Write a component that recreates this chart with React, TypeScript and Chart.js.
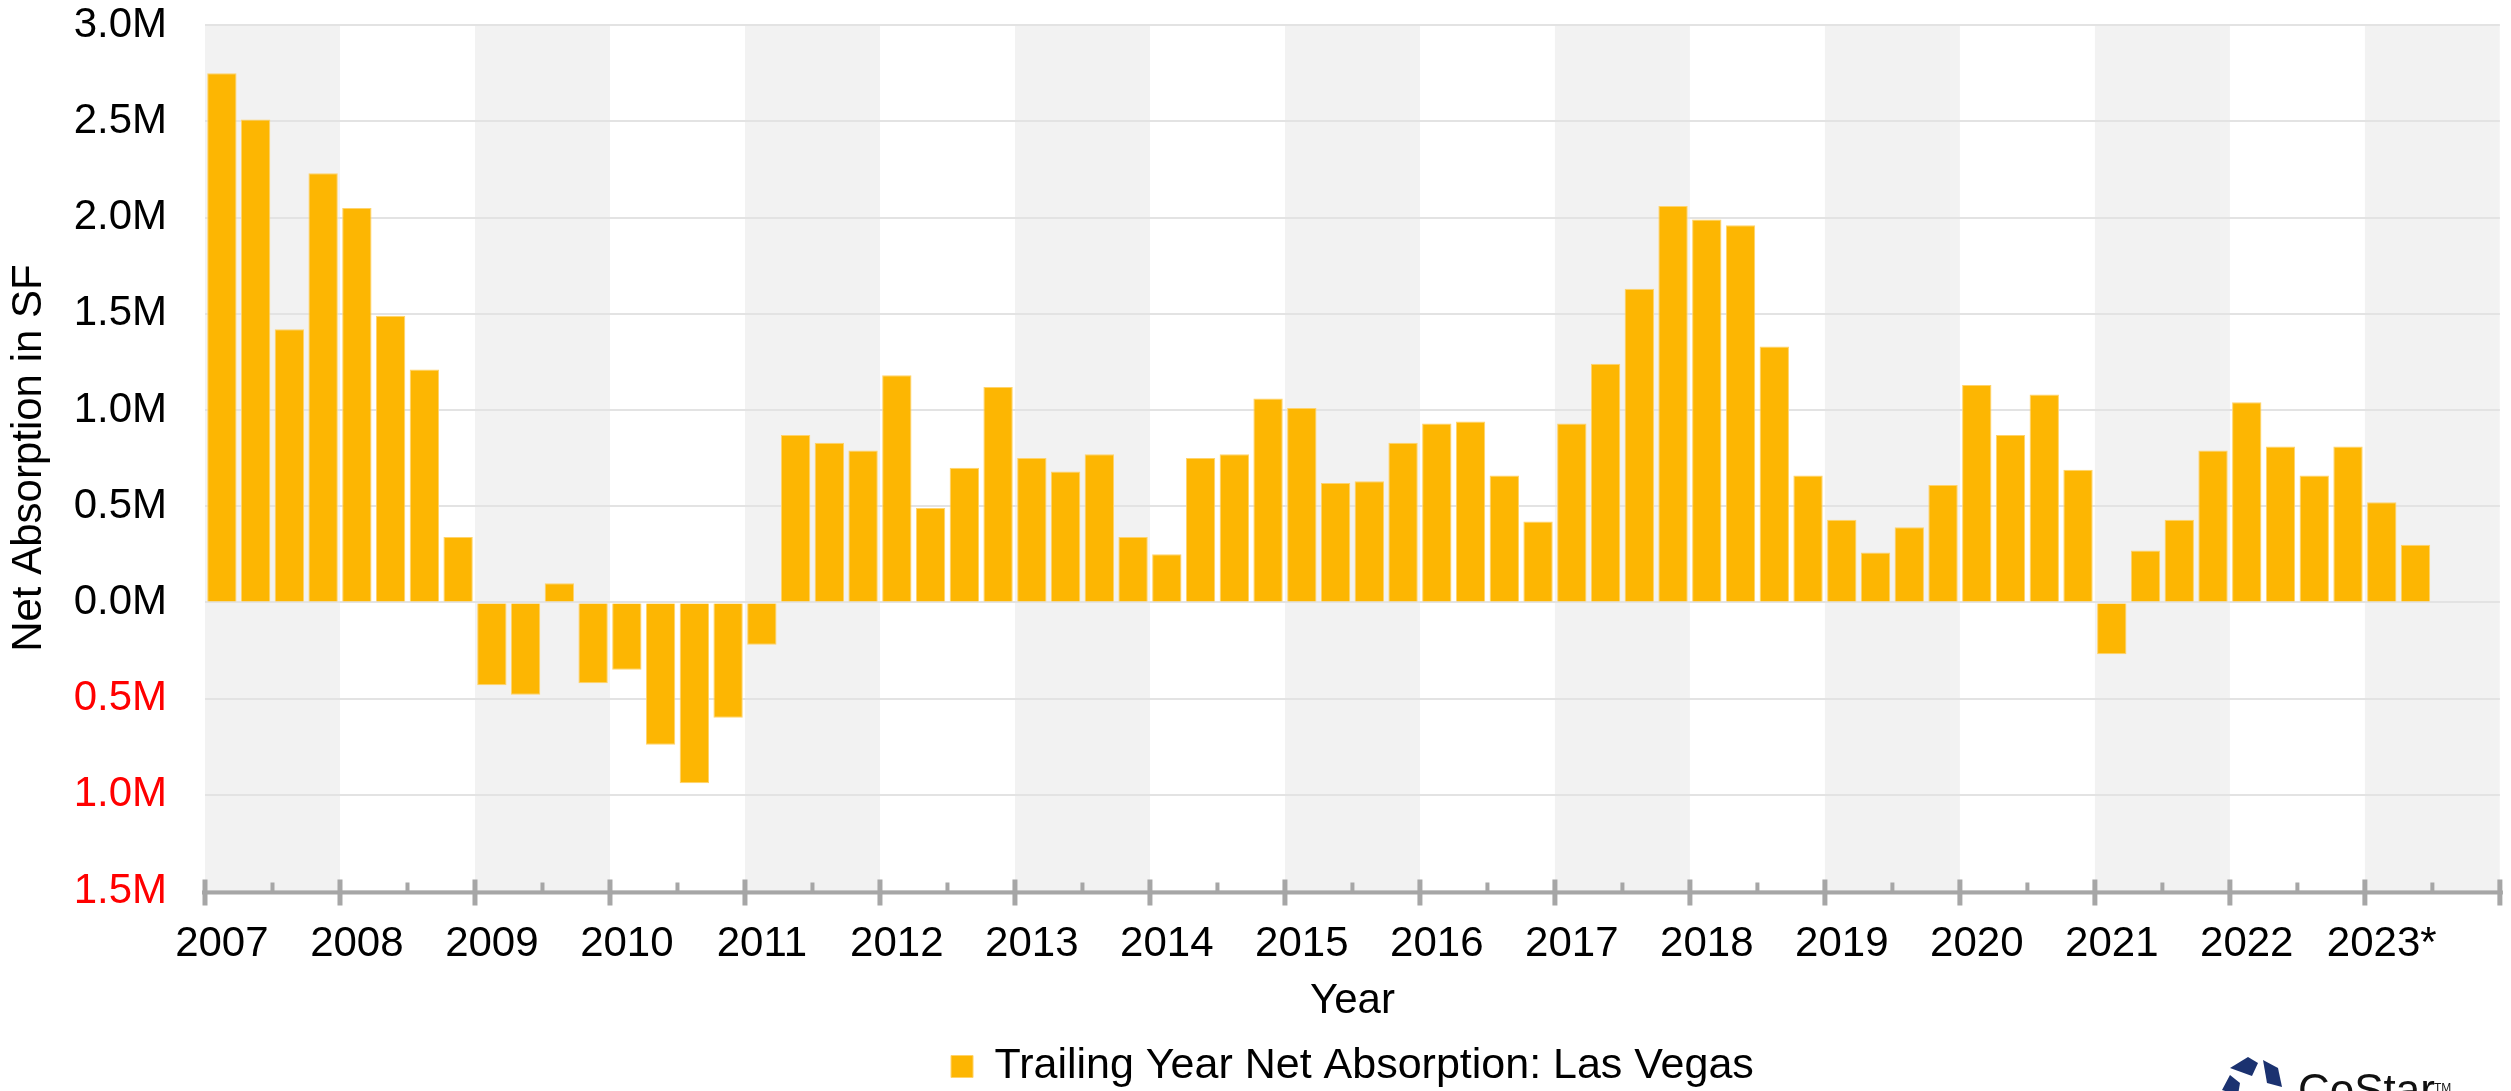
import React, { useEffect, useRef } from 'react';
import { Chart, registerables } from 'chart.js';

Chart.register(...registerables);

// ---------- data ----------
const years = [
  '2007', '2008', '2009', '2010', '2011', '2012', '2013', '2014', '2015',
  '2016', '2017', '2018', '2019', '2020', '2021', '2022', '2023*',
];
const quarters = ['Q1', 'Q2', 'Q3', 'Q4'];
const categories = years.flatMap((y) => quarters.map((q) => `${y} ${q}`));

// Trailing-year net absorption, millions of SF (2023 Q3/Q4 not yet reported)
const netAbsorption: (number | null)[] = [
  2.75, 2.51, 1.42, 2.23, // 2007
  2.05, 1.49, 1.21, 0.34, // 2008
  -0.43, -0.48, 0.10, -0.42, // 2009
  -0.35, -0.74, -0.94, -0.60, // 2010
  -0.22, 0.87, 0.83, 0.79, // 2011
  1.18, 0.49, 0.70, 1.12, // 2012
  0.75, 0.68, 0.77, 0.34, // 2013
  0.25, 0.75, 0.77, 1.06, // 2014
  1.01, 0.62, 0.63, 0.83, // 2015
  0.93, 0.94, 0.66, 0.42, // 2016
  0.93, 1.24, 1.63, 2.06, // 2017
  1.99, 1.96, 1.33, 0.66, // 2018
  0.43, 0.26, 0.39, 0.61, // 2019
  1.13, 0.87, 1.08, 0.69, // 2020
  -0.27, 0.27, 0.43, 0.79, // 2021
  1.04, 0.81, 0.66, 0.81, // 2022
  0.52, 0.30, null, null, // 2023
];

const seriesLabel = 'Trailing Year Net Absorption: Las Vegas';
const yAxisTitle = 'Net Absorption in SF';
const xAxisTitle = 'Year';
const yMin = -1.5;
const yMax = 3.0;
const yStep = 0.5;

// ---------- styles ----------
const FONT = "'Liberation Sans', Arial, Helvetica, sans-serif";
const FS = 42;
const BAR = '#FDB602';
const BAR_EDGE = '#FFD36B';
const BAND = '#F2F2F2';
const GRID = '#E3E3E3';
const AXIS = '#A6A6A6';
const LOGO = '#1B3270';
const CANVAS_SHIFT = 38;

const bandsPlugin = {
  id: 'yearBands',
  beforeDraw(chart: any) {
    const { ctx, chartArea } = chart;
    const x = chart.scales.x;
    const half = (x.getPixelForValue(1) - x.getPixelForValue(0)) / 2;
    ctx.save();
    ctx.beginPath();
    ctx.rect(chartArea.left, chartArea.top, chartArea.right - chartArea.left, chartArea.bottom - chartArea.top);
    ctx.clip();
    ctx.fillStyle = BAND;
    for (let i = 0; i < years.length; i += 2) {
      const l = x.getPixelForValue(i * 4) - half;
      const r = x.getPixelForValue(i * 4 + 3) + half;
      ctx.fillRect(l, chartArea.top, r - l, chartArea.bottom - chartArea.top);
    }
    ctx.restore();
  },
};

const axisPlugin = {
  id: 'bottomAxis',
  afterDatasetsDraw(chart: any) {
    const { ctx, chartArea } = chart;
    const x = chart.scales.x;
    const half = (x.getPixelForValue(1) - x.getPixelForValue(0)) / 2;
    const yAxis = chartArea.bottom + 1.5;
    ctx.save();
    ctx.fillStyle = AXIS;
    ctx.fillRect(chartArea.left - 3, yAxis - 2, chartArea.right - chartArea.left + 6, 4);
    for (let k = 0; k <= categories.length; k++) {
      const px = x.getPixelForValue(0) - half + k * half * 2;
      if (px > chartArea.right + 1) break;
      if (k % 4 === 0) {
        ctx.fillRect(px - 2.5, yAxis - 13, 5, 26);
      } else if (k % 4 === 2) {
        ctx.fillRect(px - 2, yAxis - 10, 4, 10);
      }
    }
    ctx.restore();
  },
};

const logoPlugin = {
  id: 'logo',
  afterDraw(chart: any) {
    const { ctx } = chart;
    const dy = CANVAS_SHIFT;
    ctx.save();
    ctx.fillStyle = LOGO;
    const pieces = [
      [[2230, 1068], [2248, 1057], [2258, 1063], [2252, 1076]],
      [[2263, 1060], [2278, 1068], [2282, 1087], [2267, 1083]],
      [[2230, 1075], [2240, 1083], [2238, 1095], [2222, 1090]],
    ];
    for (const p of pieces) {
      ctx.beginPath();
      ctx.moveTo(p[0][0], p[0][1] + dy);
      for (let i = 1; i < p.length; i++) ctx.lineTo(p[i][0], p[i][1] + dy);
      ctx.closePath();
      ctx.fill();
    }
    ctx.fillStyle = '#111111';
    ctx.font = `44px ${FONT}`;
    ctx.textBaseline = 'alphabetic';
    ctx.fillText('CoStar', 2298, 1105 + dy);
    ctx.font = `12px ${FONT}`;
    ctx.fillText('TM', 2434, 1092 + dy);
    ctx.restore();
  },
};

export default function App() {
  const canvasRef = useRef<HTMLCanvasElement | null>(null);

  useEffect(() => {
    const canvas = canvasRef.current;
    if (!canvas) return;
    const chart = new Chart(canvas, {
      type: 'bar',
      data: {
        labels: categories,
        datasets: [
          {
            label: seriesLabel,
            data: netAbsorption,
            backgroundColor: BAR,
            borderColor: BAR_EDGE,
            borderWidth: 1,
            barPercentage: 0.87,
            categoryPercentage: 1.0,
          },
        ],
      },
      options: {
        responsive: false,
        animation: false,
        devicePixelRatio: 1,
        layout: { padding: { top: 0, right: 0, bottom: 0, left: 0 } },
        plugins: {
          tooltip: { enabled: false },
          legend: {
            display: true,
            position: 'bottom',
            fullSize: false,
            labels: {
              color: '#000000',
              font: { family: FONT, size: 43 },
              boxWidth: 22,
              boxHeight: 22,
              padding: 10,
            },
          },
        },
        scales: {
          x: {
            type: 'category',
            grid: { display: false, drawTicks: false },
            border: { display: false },
            ticks: {
              autoSkip: false,
              maxRotation: 0,
              minRotation: 0,
              color: '#000000',
              font: { family: FONT, size: FS },
              padding: 28,
              callback: (_v: any, i: number) => (i % 4 === 0 ? years[i / 4] : ''),
            },
            title: {
              display: true,
              text: xAxisTitle,
              color: '#000000',
              font: { family: FONT, size: FS },
              padding: { top: 0, bottom: 8 },
            },
            afterFit: (s: any) => {
              s.height = 144;
            },
          },
          y: {
            min: yMin,
            max: yMax,
            grid: { color: GRID, lineWidth: 2, drawTicks: false },
            border: { display: false },
            ticks: {
              stepSize: yStep,
              padding: 38,
              font: { family: FONT, size: FS },
              color: (c: any) => (c.tick && c.tick.value < 0 ? '#FF0000' : '#000000'),
              callback: (v: any) => Math.abs(Number(v)).toFixed(1) + 'M',
            },
            title: {
              display: true,
              text: yAxisTitle,
              color: '#000000',
              font: { family: FONT, size: FS },
              padding: { top: 4, bottom: 0 },
            },
            afterFit: (s: any) => {
              s.width = 205;
            },
          },
        },
      },
      plugins: [bandsPlugin, axisPlugin, logoPlugin],
    });
    return () => chart.destroy();
  }, []);

  return (
    <div
      style={{
        position: 'fixed',
        left: 0,
        top: 0,
        width: 2511,
        height: 1091,
        overflow: 'hidden',
        background: '#ffffff',
      }}
    >
      <canvas
        ref={canvasRef}
        width={2511}
        height={1136}
        style={{ display: 'block', position: 'absolute', left: 0, top: -CANVAS_SHIFT }}
      />
    </div>
  );
}
